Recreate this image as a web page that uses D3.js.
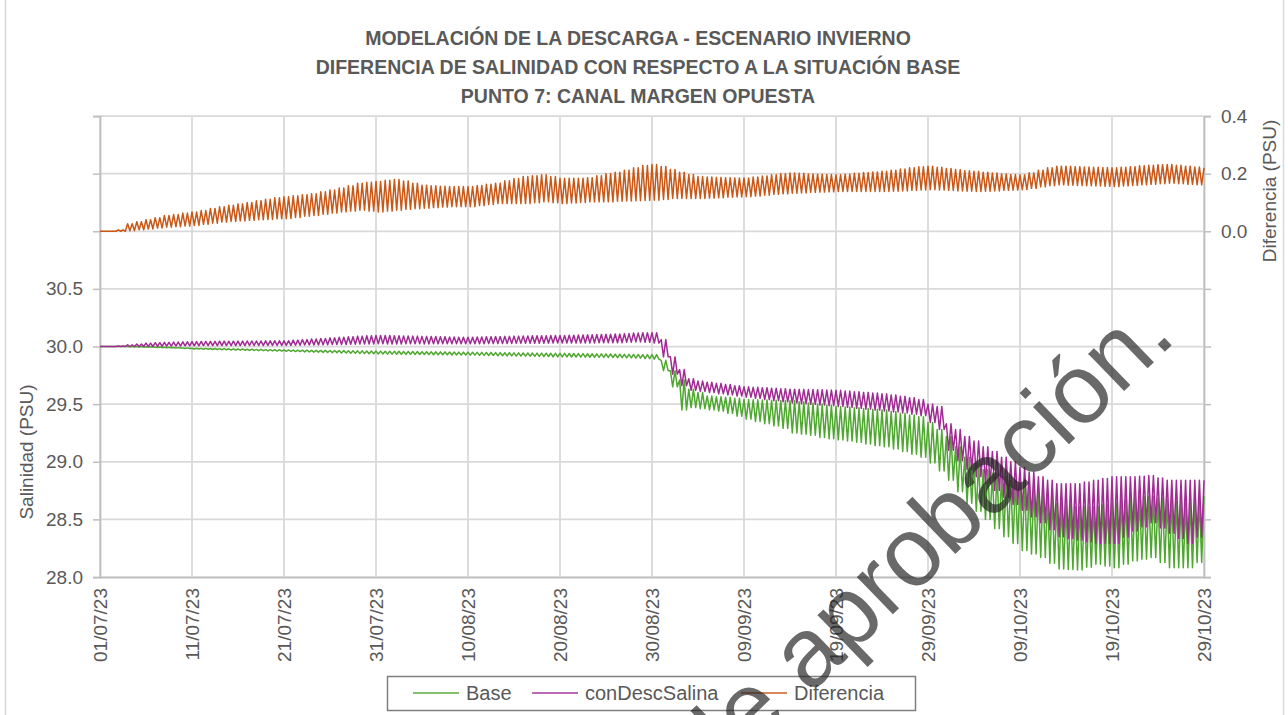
<!DOCTYPE html>
<html><head><meta charset="utf-8">
<script src="https://cdn.jsdelivr.net/npm/d3@7"></script>
<style>
html,body{margin:0;padding:0;background:#fff;}
svg{display:block;font-family:"Liberation Sans",Arial,sans-serif;}
</style></head>
<body>
<svg id="chart" width="1288" height="715"></svg>
<script>
// ---------------- DATA ----------------
const titleLines = ["MODELACIÓN DE LA DESCARGA - ESCENARIO INVIERNO",
  "DIFERENCIA DE SALINIDAD CON RESPECTO A LA SITUACIÓN BASE",
  "PUNTO 7: CANAL MARGEN OPUESTA"];
const seriesNames = ["Base", "conDescSalina", "Diferencia"];
const startDate = "01/07/23";
const endDate = "29/10/23";
const xTickLabels = ["01/07/23","11/07/23","21/07/23","31/07/23","10/08/23","20/08/23","30/08/23",
  "09/09/23","19/09/23","29/09/23","09/10/23","19/10/23","29/10/23"];
const leftTicks = [28.0, 28.5, 29.0, 29.5, 30.0, 30.5, 31.0, 31.5, 32.0];
const leftTickLabels = ["28.0","28.5","29.0","29.5","30.0","30.5","","",""];
const rightTicks = [-1.2, -1.0, -0.8, -0.6, -0.4, -0.2, 0.0, 0.2, 0.4];
const rightTickLabels = ["","","","","","","0.0","0.2","0.4"];
const leftTitle = "Salinidad (PSU)";
const rightTitle = "Diferencia (PSU)";
const watermark = "de aprobación.";

// daily high / low (two tidal cycles per day), days 0..120 from 01/07/23
const baseHigh = [
30.000,30.000,30.000,30.000,29.999,29.998,29.996,29.994,29.991,29.988,
29.985,29.984,29.983,29.982,29.980,29.978,29.976,29.975,29.973,29.972,
29.970,29.969,29.968,29.967,29.966,29.965,29.964,29.963,29.962,29.961,
29.960,29.959,29.958,29.957,29.956,29.955,29.954,29.953,29.952,29.951,
29.950,29.949,29.948,29.947,29.946,29.945,29.944,29.943,29.942,29.941,
29.940,29.939,29.938,29.937,29.936,29.935,29.933,29.932,29.931,29.930,
29.930,29.880,29.790,29.710,29.630,29.600,29.570,29.565,29.560,29.550,
29.540,29.538,29.536,29.534,29.532,29.530,29.520,29.510,29.500,29.490,
29.480,29.474,29.468,29.462,29.456,29.450,29.435,29.420,29.405,29.390,
29.340,29.280,29.220,29.130,29.040,28.985,28.930,28.900,28.870,28.840,
28.810,28.785,28.760,28.700,28.640,28.625,28.610,28.610,28.610,28.625,
28.640,28.670,28.700,28.700,28.700,28.685,28.670,28.655,28.640,28.670,
28.700];
const baseLow = [
30.000,30.000,30.000,29.998,29.996,29.995,29.992,29.989,29.986,29.982,
29.978,29.976,29.974,29.972,29.970,29.968,29.966,29.964,29.962,29.960,
29.958,29.956,29.953,29.951,29.949,29.947,29.944,29.941,29.939,29.937,
29.935,29.934,29.933,29.932,29.931,29.930,29.929,29.928,29.927,29.926,
29.925,29.923,29.922,29.920,29.919,29.917,29.916,29.914,29.913,29.911,
29.910,29.909,29.908,29.907,29.906,29.905,29.903,29.901,29.899,29.895,
29.890,29.790,29.650,29.450,29.470,29.460,29.450,29.440,29.420,29.395,
29.370,29.350,29.330,29.310,29.290,29.250,29.240,29.230,29.210,29.200,
29.190,29.180,29.170,29.155,29.140,29.130,29.110,29.090,29.065,29.040,
28.990,28.920,28.840,28.740,28.640,28.570,28.500,28.420,28.350,28.290,
28.230,28.200,28.170,28.120,28.070,28.065,28.060,28.085,28.110,28.095,
28.080,28.110,28.140,28.155,28.170,28.125,28.080,28.080,28.080,28.125,
28.170];
const conHigh = [
30.000,30.000,30.005,30.015,30.022,30.030,30.033,30.036,30.039,30.041,
30.043,30.044,30.045,30.046,30.046,30.047,30.048,30.048,30.049,30.050,
30.050,30.055,30.060,30.065,30.070,30.075,30.080,30.085,30.090,30.093,
30.095,30.095,30.094,30.092,30.090,30.088,30.086,30.084,30.082,30.081,
30.080,30.082,30.084,30.086,30.088,30.090,30.092,30.093,30.094,30.095,
30.095,30.097,30.100,30.102,30.104,30.106,30.108,30.112,30.118,30.120,
30.120,30.060,29.910,29.800,29.720,29.700,29.690,29.680,29.670,29.660,
29.650,29.646,29.642,29.638,29.634,29.630,29.628,29.626,29.624,29.622,
29.620,29.614,29.608,29.602,29.596,29.590,29.580,29.568,29.556,29.540,
29.500,29.480,29.330,29.280,29.220,29.180,29.130,29.090,29.040,29.000,
28.950,28.910,28.870,28.840,28.810,28.810,28.810,28.825,28.840,28.855,
28.870,28.870,28.870,28.875,28.880,28.860,28.840,28.840,28.840,28.840,
28.840];
const conLow = [
30.000,30.000,30.000,30.000,30.000,30.000,30.002,30.003,30.004,30.005,
30.006,30.007,30.007,30.008,30.008,30.008,30.009,30.009,30.010,30.010,
30.010,30.011,30.013,30.014,30.015,30.017,30.018,30.020,30.021,30.022,
30.023,30.022,30.022,30.023,30.023,30.022,30.023,30.023,30.023,30.023,
30.023,30.024,30.025,30.025,30.026,30.027,30.028,30.028,30.029,30.030,
30.030,30.030,30.031,30.031,30.032,30.032,30.033,30.036,30.040,30.036,
30.030,29.910,29.760,29.660,29.620,29.610,29.600,29.590,29.580,29.570,
29.560,29.550,29.540,29.530,29.520,29.510,29.504,29.498,29.492,29.486,
29.480,29.472,29.464,29.456,29.448,29.440,29.432,29.424,29.412,29.400,
29.340,29.280,29.100,29.010,28.930,28.870,28.810,28.750,28.690,28.630,
28.580,28.520,28.470,28.410,28.350,28.335,28.320,28.305,28.290,28.290,
28.290,28.345,28.400,28.435,28.470,28.425,28.380,28.335,28.290,28.345,
28.400];
const difHigh = [
0.000,0.000,0.005,0.026,0.033,0.040,0.047,0.055,0.058,0.063,
0.067,0.072,0.079,0.085,0.090,0.095,0.100,0.106,0.111,0.116,
0.120,0.123,0.127,0.130,0.137,0.143,0.150,0.158,0.167,0.170,
0.173,0.177,0.180,0.174,0.167,0.160,0.158,0.156,0.155,0.155,
0.155,0.159,0.163,0.167,0.175,0.183,0.190,0.193,0.196,0.190,
0.184,0.184,0.184,0.186,0.193,0.200,0.205,0.212,0.220,0.228,
0.232,0.225,0.214,0.205,0.197,0.190,0.188,0.187,0.186,0.185,
0.185,0.188,0.192,0.196,0.200,0.202,0.201,0.199,0.198,0.197,
0.196,0.198,0.201,0.204,0.206,0.208,0.212,0.216,0.220,0.224,
0.226,0.222,0.218,0.214,0.210,0.208,0.205,0.202,0.199,0.197,
0.196,0.203,0.212,0.220,0.226,0.226,0.224,0.223,0.222,0.221,
0.220,0.222,0.224,0.227,0.229,0.231,0.232,0.229,0.226,0.223,
0.220];
const difLow = [
0.000,0.000,0.000,0.002,0.005,0.008,0.011,0.014,0.016,0.018,
0.020,0.024,0.028,0.032,0.034,0.036,0.038,0.040,0.041,0.043,
0.044,0.048,0.052,0.055,0.059,0.063,0.067,0.070,0.073,0.070,
0.067,0.070,0.073,0.076,0.078,0.080,0.082,0.084,0.085,0.085,
0.085,0.089,0.093,0.096,0.096,0.096,0.096,0.099,0.102,0.099,
0.096,0.098,0.100,0.102,0.102,0.102,0.104,0.105,0.106,0.107,
0.108,0.110,0.114,0.114,0.114,0.114,0.115,0.116,0.118,0.119,
0.120,0.122,0.125,0.128,0.130,0.132,0.133,0.135,0.136,0.137,
0.138,0.138,0.138,0.138,0.138,0.138,0.139,0.140,0.142,0.143,
0.144,0.143,0.142,0.140,0.139,0.138,0.139,0.140,0.142,0.143,
0.144,0.149,0.154,0.158,0.161,0.160,0.159,0.158,0.157,0.156,
0.155,0.157,0.159,0.161,0.163,0.165,0.167,0.165,0.163,0.161,
0.160];

// ---------------- LAYOUT ----------------
const W = 1288, H = 715;
const M = {left: 100, right: 1204, top: 116, bottom: 577};
const colors = {"Base": "#4EA72E", "conDescSalina": "#A02B93", "Diferencia": "#CA5716"};
const textColor = "#595959";
const gridColor = "#D9D9D9";
const fontSize = 19;

const svg = d3.select("#chart");
const parse = d3.utcParse("%d/%m/%y");
const t0 = parse(startDate), t1 = parse(endDate);
const x = d3.scaleUtc().domain([t0, t1]).range([M.left, M.right]);
const yL = d3.scaleLinear().domain([d3.min(leftTicks), d3.max(leftTicks)]).range([M.bottom, M.top]);
const yR = d3.scaleLinear().domain([d3.min(rightTicks), d3.max(rightTicks)]).range([M.bottom, M.top]);

// outer frame
svg.append("rect").attr("x", 5.5).attr("y", -3).attr("width", 1278).attr("height", H + 6)
  .attr("fill", "none").attr("stroke", gridColor).attr("stroke-width", 1.5);

// title
svg.append("g").selectAll("text").data(titleLines).join("text")
  .attr("x", 638).attr("y", (d, i) => 45 + i * 29)
  .attr("text-anchor", "middle").attr("font-weight", "bold")
  .attr("font-size", 19.5).attr("fill", textColor).text(d => d);

// grid
const xTicks = xTickLabels.map(parse);
const grid = svg.append("g");
grid.selectAll("line.h").data(leftTicks).join("line").attr("class", "h")
  .attr("x1", M.left).attr("x2", M.right).attr("y1", d => yL(d)).attr("y2", d => yL(d))
  .attr("stroke", gridColor).attr("stroke-width", 1.75);
grid.selectAll("line.v").data(xTicks).join("line").attr("class", "v")
  .attr("x1", d => x(d)).attr("x2", d => x(d)).attr("y1", M.top).attr("y2", M.bottom)
  .attr("stroke", gridColor).attr("stroke-width", 1.75);

// axes
const axL = svg.append("g").attr("transform", `translate(${M.left},0)`)
  .call(d3.axisLeft(yL).tickValues(leftTicks).tickSize(7).tickPadding(10)
    .tickFormat((d, i) => leftTickLabels[i]));
const axR = svg.append("g").attr("transform", `translate(${M.right},0)`)
  .call(d3.axisRight(yR).tickValues(rightTicks).tickSize(7).tickPadding(10)
    .tickFormat((d, i) => rightTickLabels[i]));
const axB = svg.append("g").attr("transform", `translate(0,${M.bottom})`)
  .call(d3.axisBottom(x).tickValues(xTicks).tickSize(0).tickPadding(10)
    .tickFormat((d, i) => xTickLabels[i]));
[axL, axR, axB].forEach(a => {
  a.selectAll("path.domain").attr("stroke", "#BFBFBF").attr("stroke-width", 1.75);
  a.selectAll(".tick line").attr("stroke", "#BFBFBF").attr("stroke-width", 1.5);
  a.selectAll("text").attr("fill", textColor).attr("font-size", fontSize)
    .attr("font-family", "Liberation Sans, Arial, sans-serif");
});
axB.selectAll(".tick text")
  .attr("transform", "rotate(-90)").attr("text-anchor", "end")
  .attr("x", -11).attr("y", 0).attr("dy", "0.35em");

// axis titles
svg.append("text").attr("transform", "translate(33,452) rotate(-90)")
  .attr("text-anchor", "middle").attr("font-size", fontSize).attr("fill", textColor).text(leftTitle);
svg.append("text").attr("transform", "translate(1276,191) rotate(-90)")
  .attr("text-anchor", "middle").attr("font-size", fontSize).attr("fill", textColor).text(rightTitle);

// series
function build(high, low) {
  const pts = [];
  high.forEach((h, d) => {
    if (d < high.length - 1) {
      pts.push([d, h], [d + 0.25, low[d]], [d + 0.5, h], [d + 0.75, low[d]]);
    } else {
      pts.push([d, h]);
    }
  });
  return pts;
}
const dayMs = 864e5;
const tx = d => x(new Date(t0.getTime() + d * dayMs));
const series = [
  {name: "Base", pts: build(baseHigh, baseLow), y: yL},
  {name: "conDescSalina", pts: build(conHigh, conLow), y: yL},
  {name: "Diferencia", pts: build(difHigh, difLow), y: yR}
];
const lines = svg.append("g");
series.forEach(s => {
  lines.append("path").datum(s.pts)
    .attr("d", d3.line().x(p => tx(p[0])).y(p => s.y(p[1])))
    .attr("fill", "none").attr("stroke", colors[s.name]).attr("stroke-width", 1.5)
    .attr("stroke-linejoin", "round");
});

// legend
const lg = svg.append("g");
lg.append("rect").attr("x", 387.5).attr("y", 676.5).attr("width", 528).attr("height", 34)
  .attr("fill", "#fff").attr("stroke", "#7F7F7F").attr("stroke-width", 1.5);
const legX = [413, 532, 741];
seriesNames.forEach((n, i) => {
  lg.append("line").attr("x1", legX[i]).attr("x2", legX[i] + 46).attr("y1", 693).attr("y2", 693)
    .attr("stroke", colors[n]).attr("stroke-width", 2).attr("opacity", 0.7);
  lg.append("text").attr("x", legX[i] + 53).attr("y", 700).attr("font-size", 20)
    .attr("fill", textColor).text(n);
});

// watermark
svg.append("text").attr("transform", "translate(1178,339) rotate(-44)")
  .attr("text-anchor", "end").attr("font-size", 98)
  .attr("fill", "#222").attr("fill-opacity", 0.68).text(watermark);
</script>
</body></html>
